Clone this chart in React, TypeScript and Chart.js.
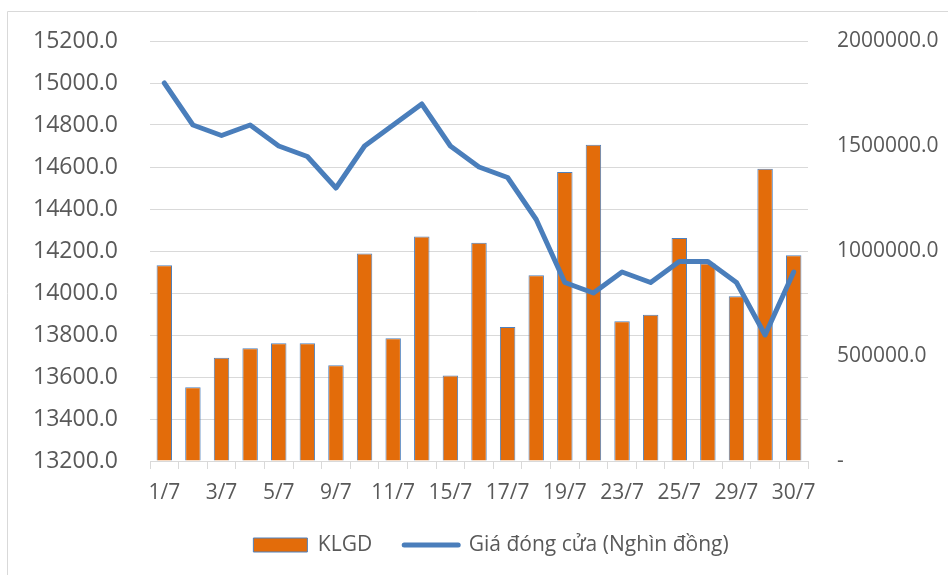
import React, { useEffect, useRef } from "react";
import { Chart, registerables } from "chart.js";

Chart.register(...registerables);

const categories = [
  "1/7", "2/7", "3/7", "4/7", "5/7", "8/7", "9/7", "10/7", "11/7", "12/7",
  "15/7", "16/7", "17/7", "18/7", "19/7", "22/7", "23/7", "24/7", "25/7", "26/7",
  "29/7", "29/7", "30/7",
];

const klgd = [
  932000, 351000, 492000, 537000, 561000, 561000, 456000, 988000, 585000, 1069000,
  407000, 1039000, 638000, 884000, 1376000, 1506000, 666000, 697000, 1062000, 940000,
  784000, 1392000, 980000,
];

const closePrice = [
  15000, 14800, 14750, 14800, 14700, 14650, 14500, 14700, 14800, 14900,
  14700, 14600, 14550, 14350, 14050, 14000, 14100, 14050, 14150, 14150,
  14050, 13800, 14100,
];

const barLabel = "KLGD";
const lineLabel = "Giá đóng cửa (Nghìn đồng)";

const BAR_COLOR = "#E36C0A";
const BAR_BORDER = "#4F81BD";
const LINE_COLOR = "#4A7EBB";
const TEXT_COLOR = "#595959";
const GRID_COLOR = "#D9D9D9";
const FONT = "'Open Sans', sans-serif";

const framePlugin = {
  id: "frame",
  beforeDraw(chart: any) {
    const ctx = chart.ctx;
    ctx.save();
    ctx.strokeStyle = GRID_COLOR;
    ctx.lineWidth = 1;
    ctx.beginPath();
    ctx.moveTo(7.5, chart.height);
    ctx.lineTo(7.5, 11.5);
    ctx.lineTo(chart.width, 11.5);
    ctx.stroke();
    ctx.restore();
  },
};

export default function App() {
  const ref = useRef<HTMLCanvasElement | null>(null);

  useEffect(() => {
    if (!ref.current) return;
    const chart = new Chart(ref.current, {
      type: "bar",
      data: {
        labels: categories,
        datasets: [
          {
            type: "bar",
            label: barLabel,
            data: klgd,
            yAxisID: "y1",
            backgroundColor: BAR_COLOR,
            borderColor: BAR_BORDER,
            borderWidth: 1,
            categoryPercentage: 1,
            barPercentage: 0.54,
            order: 2,
          } as any,
          {
            type: "line",
            label: lineLabel,
            data: closePrice,
            yAxisID: "y",
            borderColor: LINE_COLOR,
            backgroundColor: LINE_COLOR,
            borderWidth: 5,
            borderJoinStyle: "round",
            borderCapStyle: "round",
            pointRadius: 0,
            tension: 0,
            order: 1,
          } as any,
        ],
      },
      options: {
        animation: false,
        responsive: false,
        maintainAspectRatio: false,
        layout: { padding: { left: 34, right: 0, top: 41, bottom: 9.5 } },
        plugins: {
          tooltip: { enabled: false },
          legend: {
            position: "bottom",
            align: "center",
            labels: {
              usePointStyle: true,
              pointStyleWidth: 54,
              boxHeight: 14,
              padding: 32,
              color: TEXT_COLOR,
              font: { family: FONT, size: 21 },
              generateLabels: () => [
                {
                  text: barLabel,
                  fillStyle: BAR_COLOR,
                  strokeStyle: BAR_BORDER,
                  lineWidth: 1,
                  pointStyle: "rect",
                  hidden: false,
                  datasetIndex: 0,
                  fontColor: TEXT_COLOR,
                } as any,
                {
                  text: lineLabel,
                  fillStyle: LINE_COLOR,
                  strokeStyle: LINE_COLOR,
                  lineWidth: 5,
                  lineCap: "round",
                  pointStyle: "line",
                  hidden: false,
                  datasetIndex: 1,
                  fontColor: TEXT_COLOR,
                } as any,
              ],
            },
          },
        },
        scales: {
          x: {
            offset: true,
            grid: {
              display: true,
              offset: true,
              drawOnChartArea: false,
              drawTicks: true,
              tickLength: 8,
              color: GRID_COLOR,
            },
            border: { display: true, color: GRID_COLOR },
            ticks: {
              autoSkip: false,
              maxRotation: 0,
              minRotation: 0,
              padding: 11,
              color: TEXT_COLOR,
              font: { family: FONT, size: 21 },
              callback: function (this: any, val: any, index: number) {
                return index % 2 === 0 ? this.getLabelForValue(val) : "";
              },
            },
            afterFit: (scale: any) => {
              scale.height = 41.5;
            },
          },
          y: {
            position: "left",
            min: 13200,
            max: 15200,
            grid: {
              color: GRID_COLOR,
              lineWidth: 1,
              drawTicks: true,
              tickLength: 32,
              tickColor: "rgba(0,0,0,0)",
            },
            border: { display: false },
            ticks: {
              stepSize: 200,
              padding: 0,
              color: TEXT_COLOR,
              font: { family: FONT, size: 23 },
              callback: (v: any) => Number(v).toFixed(1),
            },
            afterFit: (scale: any) => {
              scale.width = 116;
            },
          },
          y1: {
            position: "right",
            min: 0,
            max: 2000000,
            grid: {
              drawOnChartArea: false,
              drawTicks: true,
              tickLength: 29,
              tickColor: "rgba(0,0,0,0)",
            },
            border: { display: false },
            ticks: {
              stepSize: 500000,
              padding: 0,
              color: TEXT_COLOR,
              font: { family: FONT, size: 21 },
              callback: (v: any) => (Number(v) === 0 ? "-" : Number(v).toFixed(1)),
            },
            afterFit: (scale: any) => {
              scale.width = 140;
            },
          },
        },
      },
      plugins: [framePlugin],
    });
    return () => chart.destroy();
  }, []);

  return (
    <div style={{ position: "fixed", left: 0, top: 0, width: 948, height: 575, background: "#fff" }}>
      <canvas ref={ref} width={948} height={575} style={{ width: 948, height: 575, display: "block" }} />
    </div>
  );
}
